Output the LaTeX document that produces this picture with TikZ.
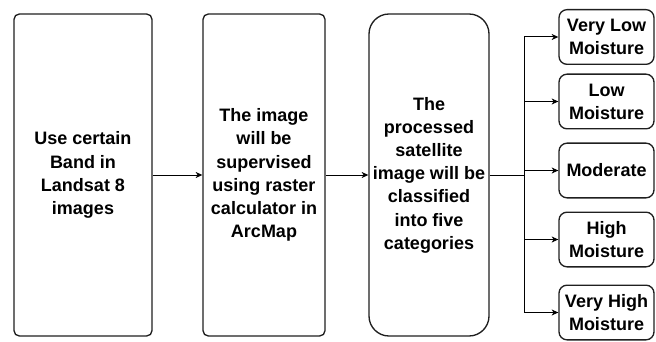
\documentclass[tikz,border=0pt]{standalone}
\usepackage{fontspec}
\setmainfont{Liberation Sans}
\usetikzlibrary{arrows.meta}
\begin{document}
\begin{tikzpicture}[x=0.75pt,y=-0.75pt,
  box/.style={draw=black!88, line width=1pt, rectangle, align=center,
    inner sep=0pt, font=\fontsize{13.5pt}{17.4pt}\selectfont\bfseries},
  tall/.style={box, minimum height=241.5pt, rounded corners=4pt},
  cat/.style={box, minimum width=71.25pt, minimum height=41pt, rounded corners=6pt},
  arr/.style={draw=black, line width=0.75pt,
    -{Stealth[length=5pt,width=4.5pt,inset=1.5pt]}},
  link/.style={draw=black, line width=0.75pt}]
\useasboundingbox (0,0) rectangle (656,342);

% main process steps
\node[tall, minimum width=103.5pt] (a) at (83,175)
  {Use certain\\Band in\\Landsat 8\\images};
\node[tall, minimum width=91.5pt] (b) at (264,175)
  {The image\\will be\\supervised\\using raster\\calculator in\\ArcMap};
\node[tall, minimum width=90pt, rounded corners=15pt] (c) at (429,175)
  {The\\processed\\satellite\\image will be\\classified\\into five\\categories};

% moisture classes
\node[cat] (k1) at (606.5,37)    {Very Low\\Moisture};
\node[cat] (k2) at (606.5,101.5) {Low\\Moisture};
\node[cat] (k3) at (606.5,170.5) {Moderate};
\node[cat] (k4) at (606.5,239.5) {High\\Moisture};
\node[cat] (k5) at (606.5,312.5) {Very High\\Moisture};

% connectors
\draw[arr] (a) -- (b);
\draw[arr] (b) -- (c);
\coordinate (split) at (524,175);
\draw[link] (c.east) -- (split);
\foreach \k in {k1,k2,k3,k4,k5}
  \draw[arr] (split) |- (\k.west);
\end{tikzpicture}
\end{document}
